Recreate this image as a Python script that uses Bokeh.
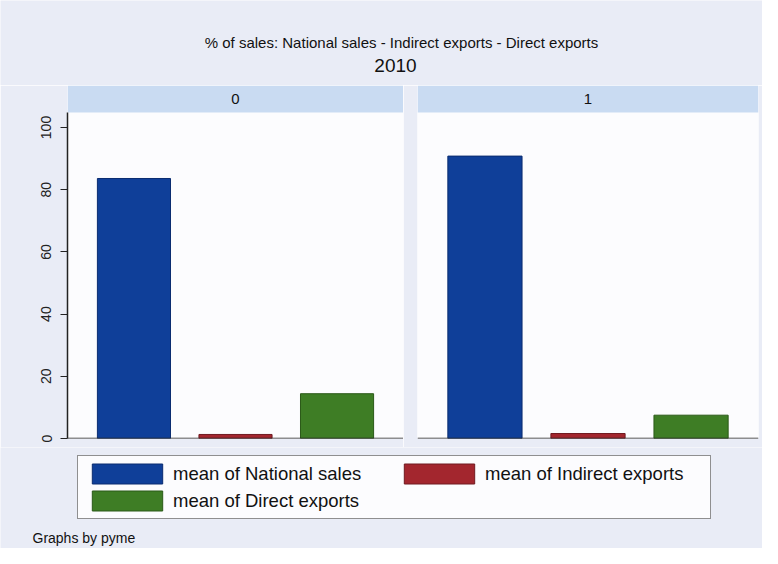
from bokeh.plotting import figure
from bokeh.layouts import column, row
from bokeh.models import (ColumnDataSource, FactorRange, Range1d, FixedTicker,
                          BoxAnnotation, Span, Label, Legend, LegendItem)
from bokeh.embed import file_html
from bokeh.resources import INLINE

# ---------------- data ----------------
title_text = "% of sales: National sales - Indirect exports - Direct exports"
subtitle_text = "2010"
panels = ["0", "1"]
series = ["National sales", "Indirect exports", "Direct exports"]
legend_labels = ["mean of National sales", "mean of Indirect exports", "mean of Direct exports"]
values_0 = [83.6, 1.3, 14.4]
values_1 = [90.8, 1.6, 7.5]
y_ticks = [0, 20, 40, 60, 80, 100]
note_text = "Graphs by pyme"

# ---------------- style ----------------
FONT = "Liberation Sans"
BG = "#e9ecf6"
STRIP = "#c9dbf2"
PLOT_BG = "#fcfcfe"
colors = ["#0f3f99", "#a3262e", "#3e7d25"]
edge = ["#0a2c70", "#701a20", "#2b5a18"]
Y_TOP = 113.5
STRIP_BOTTOM = 104.8


def make_panel(vals, label, width, left, right, show_y):
    src = ColumnDataSource(dict(x=series, top=vals, color=colors, edge=edge))
    p = figure(width=width, height=362, output_backend="svg", toolbar_location=None,
               x_range=FactorRange(factors=series, range_padding=0.103),
               y_range=Range1d(0, Y_TOP),
               x_axis_location=None,
               y_axis_location="left" if show_y else None,
               min_border_left=left, min_border_right=right,
               min_border_top=0, min_border_bottom=9)
    p.background_fill_color = PLOT_BG
    p.border_fill_color = BG
    p.outline_line_color = None
    p.grid.grid_line_color = None
    p.vbar(x="x", top="top", bottom=0, width=0.72, source=src,
           fill_color="color", line_color="edge", line_width=1)
    p.add_layout(BoxAnnotation(bottom=STRIP_BOTTOM, fill_color=STRIP, fill_alpha=1,
                               line_color=None, level="underlay"))
    p.add_layout(Span(location=0, dimension="width", line_color="#222222", line_width=1.5))
    p.add_layout(Label(x=0.5 * (width - left - right), y=340, x_units="screen", y_units="screen",
                       text=label, text_font=FONT, text_font_size="15px",
                       text_color="#111111", text_align="center", text_baseline="middle"))
    if show_y:
        ax = p.yaxis[0]
        ax.ticker = FixedTicker(ticks=y_ticks)
        ax.bounds = (0, STRIP_BOTTOM)
        ax.major_label_orientation = "vertical"
        ax.major_label_text_font = FONT
        ax.major_label_text_font_size = "14px"
        ax.major_label_text_color = "#222222"
        ax.major_label_standoff = 9
        ax.major_tick_out = 7
        ax.major_tick_in = 0
        ax.minor_tick_line_color = None
        ax.axis_line_color = "#222222"
        ax.axis_line_width = 1.5
        ax.major_tick_line_color = "#222222"
    return p, src


p0, src0 = make_panel(values_0, panels[0], 403, 67, 0, True)
p1, src1 = make_panel(values_1, panels[1], 359, 14, 4, False)

# ---------------- header ----------------
head = figure(width=762, height=85, output_backend="svg", toolbar_location=None,
              x_range=Range1d(0, 1), y_range=Range1d(0, 1),
              x_axis_location=None, y_axis_location=None, min_border=0)
head.background_fill_color = BG
head.border_fill_color = BG
head.outline_line_color = None
head.grid.grid_line_color = None
head.add_layout(Label(x=401, y=43, x_units="screen", y_units="screen", text=title_text,
                      text_font=FONT, text_font_size="15px", text_color="#111111",
                      text_align="center", text_baseline="middle"))
head.add_layout(Label(x=395, y=20, x_units="screen", y_units="screen", text=subtitle_text,
                      text_font=FONT, text_font_size="19px", text_color="#111111",
                      text_align="center", text_baseline="middle"))

# ---------------- footer with legend ----------------
foot = figure(width=762, height=101, output_backend="svg", toolbar_location=None,
              x_range=FactorRange(factors=series), y_range=Range1d(0, 1),
              x_axis_location=None, y_axis_location=None, min_border=0)
foot.background_fill_color = BG
foot.border_fill_color = BG
foot.outline_line_color = None
foot.grid.grid_line_color = None
r_leg = foot.vbar(x="x", top="top", bottom=0, width=0.72, source=src0,
                  fill_color="color", line_color="edge", line_width=1, visible=False)
legend = Legend(items=[LegendItem(label=legend_labels[i], renderers=[r_leg], index=i)
                       for i in range(3)],
                location=(77, 29), orientation="horizontal", ncols=2,
                glyph_width=88, glyph_height=25, label_width=220, label_height=25,
                label_standoff=2, spacing=2, padding=5, margin=0,
                label_text_font=FONT, label_text_font_size="18.5px",
                label_text_color="#111111", label_text_baseline="middle",
                border_line_color="#222222", border_line_width=1,
                background_fill_color=PLOT_BG, background_fill_alpha=1)
foot.add_layout(legend, "center")
foot.add_layout(Label(x=32, y=11, x_units="screen", y_units="screen", text=note_text,
                      text_font=FONT, text_font_size="14px", text_color="#111111",
                      text_align="left", text_baseline="middle"))

layout = column(head, row(p0, p1), foot)
open("out.html", "w").write(file_html(layout, INLINE))
